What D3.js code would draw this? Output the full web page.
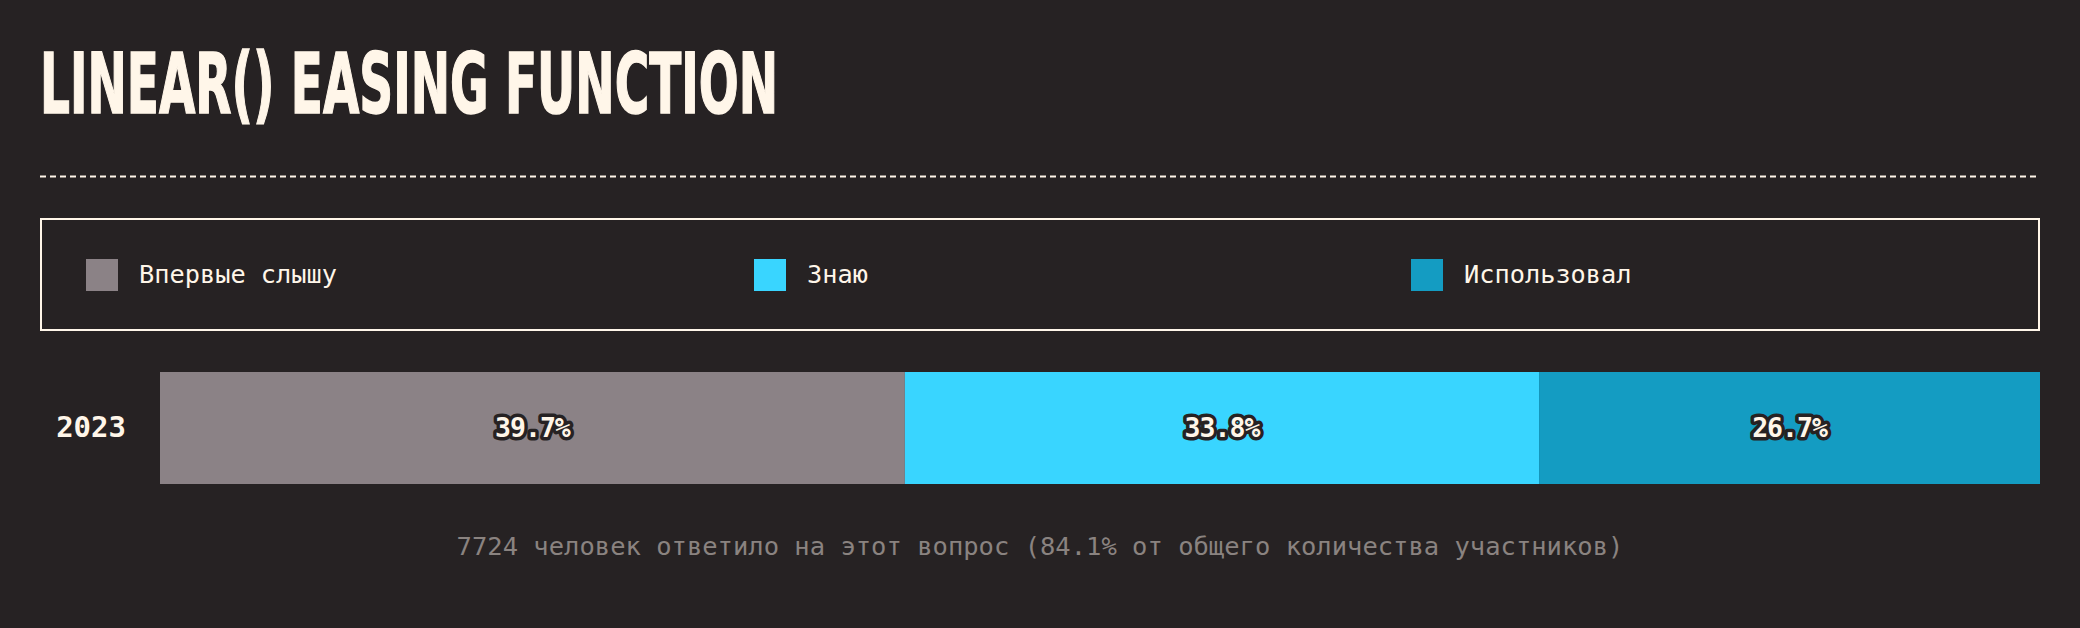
<!DOCTYPE html>
<html>
<head>
<meta charset="utf-8">
<script src="https://cdn.jsdelivr.net/npm/d3@7"></script>
<style>
  html, body { margin: 0; padding: 0; background: #262223; }
  svg { display: block; }
</style>
</head>
<body>
<svg id="chart" width="2080" height="628"></svg>
<script>
const title = "LINEAR() EASING FUNCTION";
const categories = ["2023"];
const seriesNames = ["Впервые слышу", "Знаю", "Использовал"];
const seriesValues = [39.7, 33.8, 26.7];
const valueLabels = ["39.7%", "33.8%", "26.7%"];
const seriesColors = ["#8b8286", "#39d5ff", "#149cc2"];
const footnote = "7724 человек ответило на этот вопрос (84.1% от общего количества участников)";

const W = 2080, H = 628;
const bg = "#262223", cream = "#fff6e9", grey = "#8a8380";
const mono = "'DejaVu Sans Mono', 'Liberation Mono', monospace";

const svg = d3.select("#chart");
svg.append("rect").attr("width", W).attr("height", H).attr("fill", bg);

// Title
svg.append("text")
  .attr("x", 40).attr("y", 113)
  .attr("fill", cream)
  .attr("stroke", cream).attr("stroke-width", 1.5)
  .attr("font-family", "'Liberation Sans Narrow', 'DejaVu Sans Condensed', 'Liberation Sans', sans-serif")
  .attr("font-weight", 700)
  .attr("font-size", 84)
  .attr("textLength", 738)
  .attr("lengthAdjust", "spacingAndGlyphs")
  .text(title);

// Dashed separator
svg.append("line")
  .attr("x1", 40).attr("x2", 2040)
  .attr("y1", 176.5).attr("y2", 176.5)
  .attr("stroke", cream).attr("stroke-width", 2)
  .attr("stroke-dasharray", "6,4");

// Legend box
svg.append("rect")
  .attr("x", 41).attr("y", 219).attr("width", 1998).attr("height", 111)
  .attr("fill", "none").attr("stroke", cream).attr("stroke-width", 2);

const legendOffsets = [86, 754, 1411];
const leg = svg.append("g").selectAll("g").data(seriesNames).join("g")
  .attr("transform", (d, i) => `translate(${legendOffsets[i]},259)`);
leg.append("rect").attr("width", 32).attr("height", 32)
  .attr("fill", (d, i) => seriesColors[i]);
leg.append("text").attr("x", 53).attr("y", 24)
  .attr("fill", cream).attr("font-family", mono).attr("font-size", 25.3)
  .text(d => d);

// Bar
const total = d3.sum(seriesValues);
const x = d3.scaleLinear().domain([0, total]).range([160, 2040]);
const y = d3.scaleBand().domain(categories).range([372, 484]).padding(0);
const starts = seriesValues.map((v, i) => d3.sum(seriesValues.slice(0, i)));

const rows = svg.append("g").selectAll("g").data(categories).join("g");
rows.append("text")
  .attr("x", 126).attr("y", d => y(d) + y.bandwidth() / 2 + 9)
  .attr("text-anchor", "end")
  .attr("fill", cream).attr("font-family", mono).attr("font-weight", 700)
  .attr("font-size", 29)
  .text(d => d);

const segs = svg.append("g").selectAll("g").data(seriesValues).join("g");
segs.append("rect")
  .attr("x", (d, i) => x(starts[i]))
  .attr("y", y(categories[0]))
  .attr("width", (d, i) => x(starts[i] + d) - x(starts[i]))
  .attr("height", y.bandwidth())
  .attr("fill", (d, i) => seriesColors[i]);
segs.append("text")
  .attr("x", (d, i) => (x(starts[i]) + x(starts[i] + d)) / 2)
  .attr("y", y(categories[0]) + y.bandwidth() / 2 + 9)
  .attr("text-anchor", "middle")
  .attr("font-family", mono).attr("font-weight", 700).attr("font-size", 26.5)
  .attr("letter-spacing", -1)
  .attr("fill", cream)
  .attr("stroke", bg).attr("stroke-width", 7).attr("stroke-linejoin", "round")
  .attr("paint-order", "stroke")
  .text((d, i) => valueLabels[i]);

// Footnote
svg.append("text")
  .attr("x", 1040).attr("y", 555)
  .attr("text-anchor", "middle")
  .attr("fill", grey).attr("font-family", mono).attr("font-size", 25.5)
  .text(footnote);
</script>
</body>
</html>
